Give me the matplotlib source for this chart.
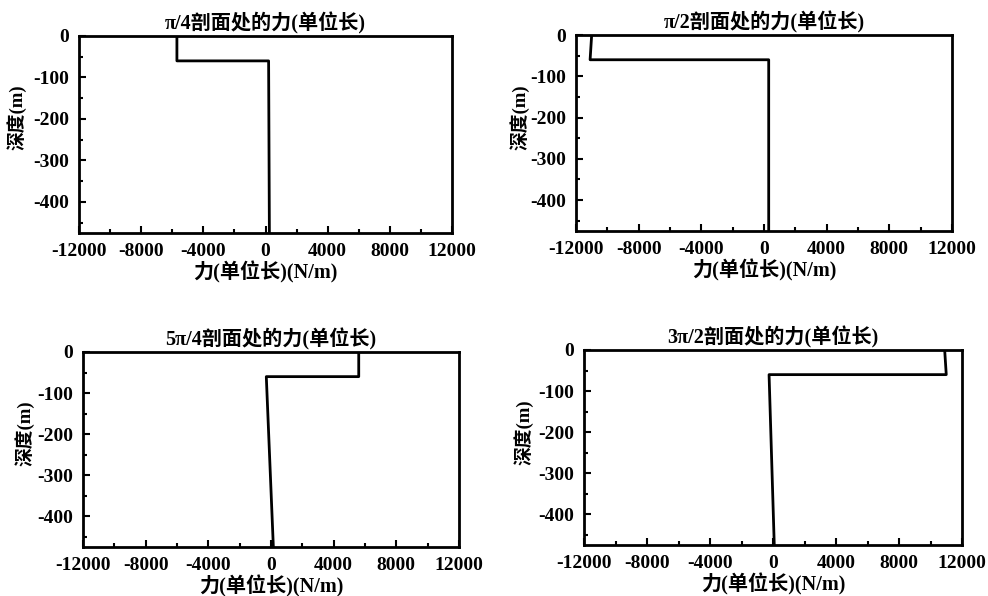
import matplotlib
matplotlib.use("Agg")
import matplotlib.pyplot as plt
from matplotlib.ticker import MultipleLocator

plt.rcParams['axes.unicode_minus'] = False
plt.rcParams['font.family'] = ['Liberation Serif', 'Noto Sans CJK SC']
plt.rcParams['font.weight'] = 'bold'

titles = ["π/4剖面处的力(单位长)", "π/2剖面处的力(单位长)",
          "5π/4剖面处的力(单位长)", "3π/2剖面处的力(单位长)"]
depth = [0, -60, -60, -475]
force_pi4 = [-5700, -5700, 200, 250]
force_pi2 = [-11000, -11100, 300, 300]
force_5pi4 = [5600, 5600, -300, 150]
force_3pi2 = [10900, 11000, -250, 80]
forces = [force_pi4, force_pi2, force_5pi4, force_3pi2]
xticks = [-12000, -8000, -4000, 0, 4000, 8000, 12000]
yticks = [0, -100, -200, -300, -400]
xlabel = "力(单位长)(N/m)"
ylabel = "深度(m)"

W, H = 988, 596
boxes = [(79, 452, 36, 233), (576, 952, 35, 231), (83, 459, 352, 547), (584, 962, 350, 545)]
ylab_x = [17, 520, 25, 524]
ylab_y = [117, 117, 433, 432]

fig = plt.figure(figsize=(W / 100, H / 100), dpi=100)
for i in range(4):
    l, r, t, b = boxes[i]
    ax = fig.add_axes([l / W, 1 - b / H, (r - l) / W, (b - t) / H])
    ax.plot(forces[i], depth, color='black', lw=2.0)
    ax.set_xlim(-12000, 12000)
    ax.set_ylim(-475, 0)
    ax.set_xticks(xticks)
    ax.set_yticks(yticks)
    ax.xaxis.set_minor_locator(MultipleLocator(2000))
    ax.yaxis.set_minor_locator(MultipleLocator(50))
    ax.tick_params(which='both', direction='in', top=False, right=False,
                   width=1.5, labelsize=14)
    ax.tick_params(which='major', length=5, pad=7)
    ax.tick_params(which='minor', length=3)
    for lab in ax.get_xticklabels() + ax.get_yticklabels():
        lab.set_fontweight('bold')
    for s in ax.spines.values():
        s.set_linewidth(2.0)
    ax.set_title(titles[i], fontsize=14.5, fontweight='bold', pad=5)
    ax.set_xlabel(xlabel, fontsize=14.5, fontweight='bold', labelpad=1)
    ax.set_ylabel(ylabel, fontsize=13.5, fontweight='bold', va='center')
    ax.yaxis.set_label_coords((ylab_x[i] - l) / (r - l), (b - ylab_y[i]) / (b - t))

fig.savefig("out.png", dpi=100)
